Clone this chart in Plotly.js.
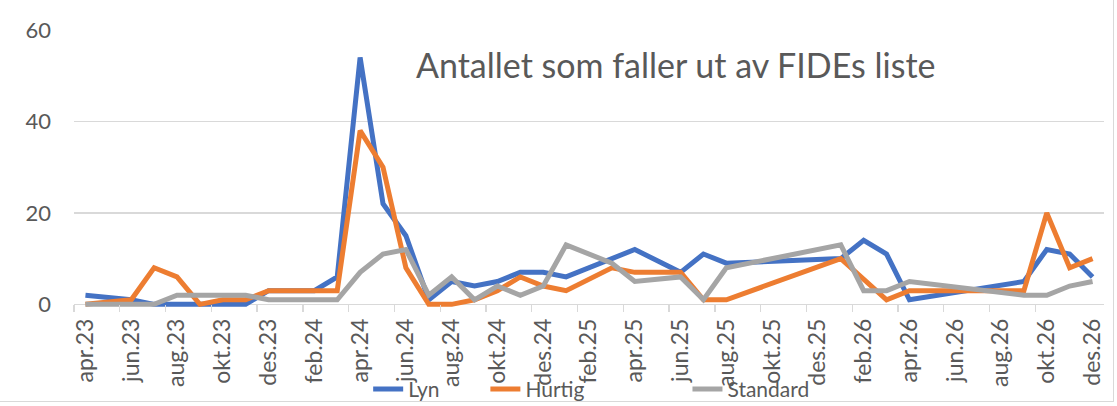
<!DOCTYPE html>
<html>
<head>
<meta charset="utf-8">
<script src="https://cdn.plot.ly/plotly-3.0.1.min.js"></script>
<style>
  html, body { margin: 0; padding: 0; background: #ffffff; }
  #wrap { position: relative; width: 1117px; height: 406px; }
  #chart { width: 1117px; height: 406px; }
  #frame { position: absolute; left: 0; top: 0; width: 1113px; height: 401px;
           border-right: 1px solid #d9d9d9; border-bottom: 1px solid #d9d9d9; pointer-events: none; }
</style>
</head>
<body>
<div id="wrap">
<div id="chart"></div>
<div id="frame"></div>
</div>
<script>
const months = ['apr.23','mai.23','jun.23','jul.23','aug.23','sep.23','okt.23','nov.23','des.23',
  'jan.24','feb.24','mar.24','apr.24','mai.24','jun.24','jul.24','aug.24','sep.24','okt.24','nov.24','des.24',
  'jan.25','feb.25','mar.25','apr.25','mai.25','jun.25','jul.25','aug.25','sep.25','okt.25','nov.25','des.25',
  'jan.26','feb.26','mar.26','apr.26','mai.26','jun.26','jul.26','aug.26','sep.26','okt.26','nov.26','des.26'];

const lyn      = [2,null,1,0,0,0,0,0,3,3,3,6,54,22,15,1,5,4,5,7,7,6,null,10,12,null,7,11,9,null,null,null,null,10,14,11,1,null,null,null,null,5,12,11,6];
const hurtig   = [0,null,1,8,6,0,1,1,3,3,3,3,38,30,8,0,0,1,3,6,4,3,null,8,7,null,7,1,1,null,null,null,null,10,null,1,3,null,null,null,null,3,20,8,10];
const standard = [0,null,0,0,2,2,2,2,1,1,1,1,7,11,12,2,6,1,4,2,4,13,null,9,5,null,6,1,8,null,null,null,null,13,3,3,5,null,null,null,null,2,2,4,5];

const seriesNames = ['Lyn', 'Hurtig', 'Standard'];
const yTicks = [0, 20, 40, 60];
const titleText = 'Antallet som faller ut av FIDEs liste';

const tickLabels = months.filter((m, i) => i % 2 === 0);
const boundaryTicks = [];
for (let k = 0; k < months.length - 1; k += 2) boundaryTicks.push(k - 0.5);

const colors = ['#4472C4', '#ED7D31', '#A5A5A5'];
const values = [lyn, hurtig, standard];
const legendIds = ['legend', 'legend2', 'legend3'];

const traces = values.map((v, i) => ({
  type: 'scatter', mode: 'lines',
  x: months, y: v, name: seriesNames[i],
  connectgaps: true,
  line: { color: colors[i], width: 5 },
  legend: legendIds[i],
  hoverinfo: 'x+y+name'
}));
// invisible trace to activate xaxis2 for the boundary tick marks
traces.push({ type: 'scatter', mode: 'lines', x: [-0.5, 44.5], y: [null, null], xaxis: 'x2', yaxis: 'y', showlegend: false, hoverinfo: 'skip' });

const FONT = 'Lato, "Open Sans", sans-serif';
const txt = '#595959';
const grid = '#d9d9d9';

const legendBase = { orientation: 'h', yanchor: 'middle', y: -0.293, xanchor: 'left',
  font: { family: FONT, size: 21, color: txt }, bgcolor: 'rgba(0,0,0,0)', borderwidth: 0 };

const layout = {
  width: 1117, height: 406,
  margin: { l: 73.6, r: 12.5, t: 30, b: 98.35, pad: 0, autoexpand: false },
  paper_bgcolor: '#ffffff', plot_bgcolor: '#ffffff',
  font: { family: FONT, color: txt },
  xaxis: {
    type: 'category', range: [-0.5, 44.5], automargin: false,
    tickmode: 'array', tickvals: tickLabels, ticktext: tickLabels,
    tickangle: -90, ticks: '', showgrid: false, showline: false, zeroline: false,
    ticklabelstandoff: 5,
    tickfont: { family: FONT, size: 23, color: txt },
    fixedrange: true
  },
  xaxis2: {
    overlaying: 'x', anchor: 'free', position: 0.0131, type: 'linear',
    range: [-0.5, 44.5], tickmode: 'array', tickvals: boundaryTicks,
    ticks: 'outside', ticklen: 7, tickwidth: 1.3, tickcolor: grid,
    showticklabels: false, showgrid: false, showline: false, zeroline: false
  },
  yaxis: {
    range: [-0.8, 60], tickmode: 'array', tickvals: yTicks, automargin: false,
    showgrid: true, gridcolor: grid, gridwidth: 1.3,
    zeroline: false, showline: false, ticks: '',
    ticklabelstandoff: 22,
    tickfont: { family: FONT, size: 22, color: txt },
    fixedrange: true
  },
  showlegend: true,
  legend: Object.assign({}, legendBase, { x: 0.2856 }),
  legend2: Object.assign({}, legendBase, { x: 0.3994 }),
  legend3: Object.assign({}, legendBase, { x: 0.5956 }),
  annotations: [{
    text: titleText, xref: 'paper', yref: 'paper',
    x: 0.584, y: 0.875, xanchor: 'center', yanchor: 'middle', showarrow: false,
    font: { family: FONT, size: 34, color: txt }
  }]
};

Plotly.newPlot('chart', traces, layout, { staticPlot: true, displayModeBar: false });
</script>
</body>
</html>
